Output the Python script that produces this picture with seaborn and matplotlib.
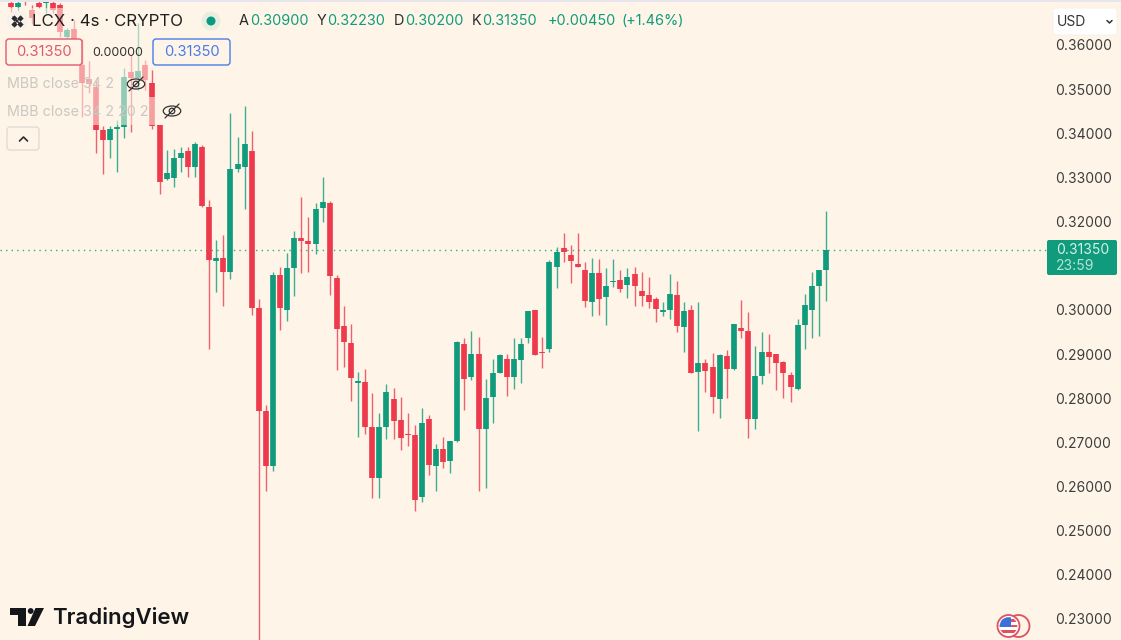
import numpy as np
import pandas as pd
import matplotlib
matplotlib.use('Agg')
import matplotlib.pyplot as plt
from matplotlib.patches import Circle, FancyBboxPatch, Rectangle, Polygon, Ellipse
import seaborn as sns

# candles, 4h LCX
opens = [.36951, .36860, .37060, .36793, .36951, .36951, .36951, .36906, .36181, .36362,
         .35547, .35230, .35048, .34075, .33848, .34097, .34142, .35388, .35252, .35547,
         .35139, .34188, .32965, .32987, .33440, .33599, .33237, .33689, .32330, .31107,
         .31175, .30858, .33191, .33237, .33599, .30043, .27710, .26464, .30790, .29998,
         .30949, .31628, .31560, .31493, .32308, .32421, .30722, .29635, .29250, .28344,
         .28367, .27347, .26192, .27347, .27982, .27506, .27189, .27166, .25762, .27529,
         .26464, .26849, .26578, .27030, .29228, .28480, .29001, .27302, .28027, .28571,
         .28888, .28480, .28865, .29363, .29998, .29046, .29114, .30971, .31402, .31243,
         .31039, .30904, .30179, .30836, .30292, .30632, .30677, .30564, .30813, .30428,
         .30337, .30247, .29952, .29998, .30337, .29612, .29998, .28593, .28797, .28707,
         .27982, .28956, .28661, .29590, .29522, .27529, .28503, .29046, .29001, .28820,
         .28525, .28208, .29658, .29998, .30541, .30900]
highs = [.37100, .37080, .37150, .36906, .37100, .37100, .37100, .36951, .36385, .36566,
         .36136, .35637, .35207, .34165, .34165, .34301, .35479, .35773, .36498, .35660,
         .35434, .34188, .33622, .33644, .33689, .33689, .33803, .33735, .32489, .31583,
         .31696, .34460, .33916, .34618, .34052, .30247, .27846, .30858, .30971, .31289,
         .31787, .32557, .32104, .32421, .33010, .32466, .30790, .30088, .29680, .28593,
         .28661, .28118, .27665, .28321, .28231, .28027, .27665, .27393, .27778, .27619,
         .26963, .27121, .27030, .29295, .29363, .29522, .29386, .28435, .28888, .29001,
         .29001, .29363, .29363, .29975, .30000, .29386, .31130, .31424, .31742, .31470,
         .31742, .31085, .31175, .31153, .30949, .31153, .30904, .30949, .30971, .30858,
         .30745, .30292, .30179, .30813, .30654, .30179, .30111, .30179, .28888, .29023,
         .29001, .29092, .29680, .30224, .29952, .29182, .29499, .29454, .29001, .28842,
         .28593, .29794, .30360, .30858, .30904, .32230]
lows = [.36747, .36747, .36906, .36475, .36838, .36725, .36725, .36181, .36158, .36113,
        .34369, .34913, .33554, .33078, .33440, .33123, .33893, .34029, .34981, .34981,
        .34097, .32625, .32942, .32783, .33123, .33010, .33010, .32330, .29114, .30405,
        .30088, .30700, .33123, .32285, .29884, .22070, .25898, .26351, .29545, .29748,
        .30315, .30836, .30858, .31266, .31991, .30337, .28639, .28707, .27936, .27121,
        .27189, .25739, .25739, .27076, .27076, .26827, .26917, .25445, .25649, .26260,
        .25898, .26419, .26306, .27008, .27733, .28412, .25898, .25966, .27438, .28571,
        .28050, .28208, .28344, .29250, .28978, .28684, .29046, .30496, .31085, .30609,
        .30971, .30066, .29862, .29884, .29658, .30518, .30405, .30269, .30088, .30088,
        .30043, .29726, .29862, .29794, .29499, .29046, .28571, .27257, .28140, .27665,
        .27551, .28004, .28639, .29363, .27098, .27302, .28321, .28571, .28186, .28004,
        .27914, .28186, .29114, .29363, .29408, .30200]
closes = [.36860, .36951, .36975, .36611, .36860, .36974, .36793, .36294, .36340, .36136,
          .35139, .35116, .34075, .33848, .34097, .34142, .35275, .35252, .35411, .35207,
          .34165, .32897, .33101, .33440, .33554, .33237, .33757, .32353, .31130, .31175,
          .30858, .33191, .33304, .33757, .30043, .27710, .26464, .30790, .30043, .30949,
          .31628, .31560, .31493, .32285, .32444, .30768, .29567, .29273, .28457, .28389,
          .27347, .26192, .27347, .28140, .27483, .27098, .27166, .25694, .27438, .26487,
          .26849, .26555, .27030, .29273, .28435, .29001, .27302, .28004, .28571, .28978,
          .28480, .28888, .29228, .29975, .28978, .29023, .31085, .31311, .31311, .31107,
          .30971, .30201, .30836, .30247, .30541, .30654, .30473, .30745, .30541, .30315,
          .30179, .30020, .29998, .30360, .29635, .29975, .28571, .28797, .28616, .28027,
          .28978, .28661, .29680, .29522, .27529, .28503, .29046, .28933, .28797, .28571,
          .28253, .29658, .30111, .30541, .30904, .31350]

# 0.31000 sits under the last price tag in the picture, so no label for it
price_ticks = [.36, .35, .34, .33, .32, .30, .29, .28, .27, .26, .25, .24, .23]
last_price = .31350
ohlc_labels = [('A', '0.30900'), ('Y', '0.32230'), ('D', '0.30200'), ('K', '0.31350')]
change_text = '+0.00450'
change_pct_text = '(+1.46%)'
countdown = '23:59'

BG = '#FEF5E8'
RED = '#EE3A4D'
GREEN = '#109B7D'
W, H = 1121, 640

sns.set_theme(style='white', rc={'axes.facecolor': BG, 'figure.facecolor': BG})
plt.rcParams['font.family'] = ['Inter', 'DejaVu Sans']

slots = np.arange(len(opens))
candles = pd.DataFrame({'slot': slots, 'open': opens, 'high': highs, 'low': lows, 'close': closes})
candles['side'] = np.where(candles['close'] >= candles['open'], 'up', 'down')
colors = {'up': GREEN, 'down': RED}

wicks = candles.melt(id_vars=['slot', 'side'], value_vars=['low', 'high'], value_name='price')
bodies = candles.melt(id_vars=['slot', 'side'], value_vars=['open', 'close'], value_name='price')

fig = plt.figure(figsize=(W / 100, H / 100), dpi=100)
ax = fig.add_axes([0, 0, 1047 / W, 1])

sns.lineplot(data=wicks, x='slot', y='price', hue='side', units='slot', estimator=None, sort=False,
             palette=colors, legend=False, linewidth=1.0, alpha=0.8, solid_capstyle='butt', zorder=2, ax=ax)
sns.lineplot(data=bodies, x='slot', y='price', hue='side', units='slot', estimator=None, sort=False,
             palette=colors, legend=False, linewidth=4.1, solid_capstyle='butt', zorder=3, ax=ax)
ax.axhline(last_price, color=GREEN, lw=1, alpha=0.85, ls=(0, (1, 3)), zorder=1)

step = 7.09
ax.set_xlim(-10.65 / step, (1047 - 10.65) / step)
ax.set_ylim(0.37019 - 640 * 0.0002265, 0.37019)
ax.set_xticks([])
ax.set_xlabel('')
ax.set_ylabel('')
ax.yaxis.tick_right()
ax.set_yticks(price_ticks)
ax.set_yticklabels(['%.5f' % p for p in price_ticks], fontsize=10, color='#3d3d3d')
ax.tick_params(axis='y', length=0, pad=5.5)
sns.despine(ax=ax, left=True, right=True, top=True, bottom=True)

# everything on top of the chart, in picture pixels
ui = fig.add_axes([0, 0, 1, 1], zorder=5)
ui.set_xlim(0, W)
ui.set_ylim(H, 0)
ui.axis('off')
ui.patch.set_alpha(0)

ui.add_patch(Rectangle((0, 0), W, 2, color='#E9E5EE', lw=0))
# legend veil over the first candles
ui.add_patch(Rectangle((0, 8), 148, 89, color=BG, alpha=0.55, lw=0))
ui.add_patch(Rectangle((0, 97), 165, 28, color=BG, alpha=0.55, lw=0))

# symbol header
ui.add_patch(Circle((17, 21), 10, color='#F6F1EB', lw=0))
for dx, dy in [(-3, -3), (3, -3), (-3, 3), (3, 3)]:
    ui.plot([17 + dx], [21 + dy], marker='D', ms=3.2, color='#2b2b2b', mew=0)
ui.plot([13, 21], [17, 25], color='#2b2b2b', lw=1)
ui.plot([13, 21], [25, 17], color='#2b2b2b', lw=1)
ui.text(32, 21, 'LCX · 4s · CRYPTO', fontsize=12.15, color='#1f1f1f', va='center')
ui.add_patch(Circle((211, 21), 9.5, color='#E8EDE0', lw=0))
ui.add_patch(Circle((211, 21), 4.5, color='#089981', lw=0))

label_x = [(239, 250), (316.7, 327.5), (393.7, 405), (471.7, 482.5)]
for (letter, value), (x0, x1) in zip(ohlc_labels, label_x):
    ui.text(x0, 21, letter, fontsize=10.4, color='#2b2b2b', va='center')
    ui.text(x1, 21, value, fontsize=10.4, color=GREEN, va='center')
ui.text(548, 21, change_text, fontsize=10.4, color=GREEN, va='center')
ui.text(621.5, 21, change_pct_text, fontsize=10.4, color=GREEN, va='center')

# sell / spread / buy boxes
ui.add_patch(FancyBboxPatch((6, 39), 76, 26, boxstyle='round,pad=0,rounding_size=3', fc=BG, ec='#E2586E', lw=1))
ui.text(44, 52.5, '%.5f' % last_price, fontsize=10.6, color='#E2586E', ha='center', va='center')
ui.text(117.5, 52.5, '0.00000', fontsize=9, color='#333333', ha='center', va='center')
ui.add_patch(FancyBboxPatch((153, 39), 77, 26, boxstyle='round,pad=0,rounding_size=3', fc=BG, ec='#4A7BE8', lw=1))
ui.text(191.5, 52.5, '%.5f' % last_price, fontsize=10.6, color='#4A7BE8', ha='center', va='center')

# hidden indicators
ui.text(7, 84.5, 'MBB close 34 2', fontsize=10.3, color='#CBC8C2', va='center')
ui.text(7, 111.5, 'MBB close 34 2 20 2', fontsize=10.3, color='#CBC8C2', va='center')
for ex, ey in [(136, 84), (172, 111)]:
    ui.add_patch(Ellipse((ex, ey), 17.5, 10, fc='none', ec='#333333', lw=0.9))
    ui.add_patch(Circle((ex, ey), 2.8, fc='none', ec='#333333', lw=0.9))
    ui.plot([ex - 7, ex + 7], [ey + 7, ey - 7], color='#333333', lw=0.9)
ui.add_patch(FancyBboxPatch((7, 127), 32, 23, boxstyle='round,pad=0,rounding_size=3', fc=BG, ec='#E0DCD5', lw=1))
ui.plot([19.5, 23.5, 27.5], [141, 137, 141], color='#2b2b2b', lw=1.2)

# currency selector
ui.add_patch(FancyBboxPatch((1053, 8), 64, 27, boxstyle='round,pad=0,rounding_size=3', fc='white', ec='#F5F0EA', lw=0.6))
ui.text(1057, 22, 'USD', fontsize=10, color='#333333', va='center')
ui.plot([1107, 1109.5, 1112], [20.5, 23, 20.5], color='#333333', lw=1.1)

# last price tag
ui.add_patch(FancyBboxPatch((1047, 240), 70, 35, boxstyle='round,pad=0,rounding_size=2', fc=GREEN, ec='none'))
ui.text(1056, 249.5, '%.5f' % last_price, fontsize=10, color='#D6F0E8', va='center')
ui.text(1056, 265.5, countdown, fontsize=10, color='#B5E3D5', va='center')

# TradingView mark
ui.add_patch(Polygon([(10, 608), (26, 608), (26, 626), (17.5, 626), (17.5, 615), (10, 615)], color='#15161A', lw=0))
ui.add_patch(Circle((30.7, 611), 2.9, color='#15161A', lw=0))
ui.add_patch(Polygon([(35.5, 608), (44, 608), (35, 626), (27.5, 626)], color='#15161A', lw=0))
ui.text(52, 617.5, 'TradingView', fontsize=16, fontweight='semibold', color='#15161A', va='center')

# flag badge
ui.add_patch(Circle((1018.5, 626), 11, fc=BG, ec='#E0525F', lw=1.3))
rim = Circle((1008.5, 626), 11, fc='white', ec='#E0525F', lw=1.3)
ui.add_patch(rim)
clip = Circle((1008.5, 626), 8.8, transform=ui.transData)
for sy in [619, 624.5, 630]:
    band = ui.add_patch(Rectangle((997, sy), 24, 2.8, color='#E0525F', lw=0))
    band.set_clip_path(clip)
canton = ui.add_patch(Rectangle((998, 616), 12.5, 10.5, color='#3F6FD8', lw=0))
canton.set_clip_path(clip)

fig.savefig('out.png', dpi=100, facecolor=BG)
